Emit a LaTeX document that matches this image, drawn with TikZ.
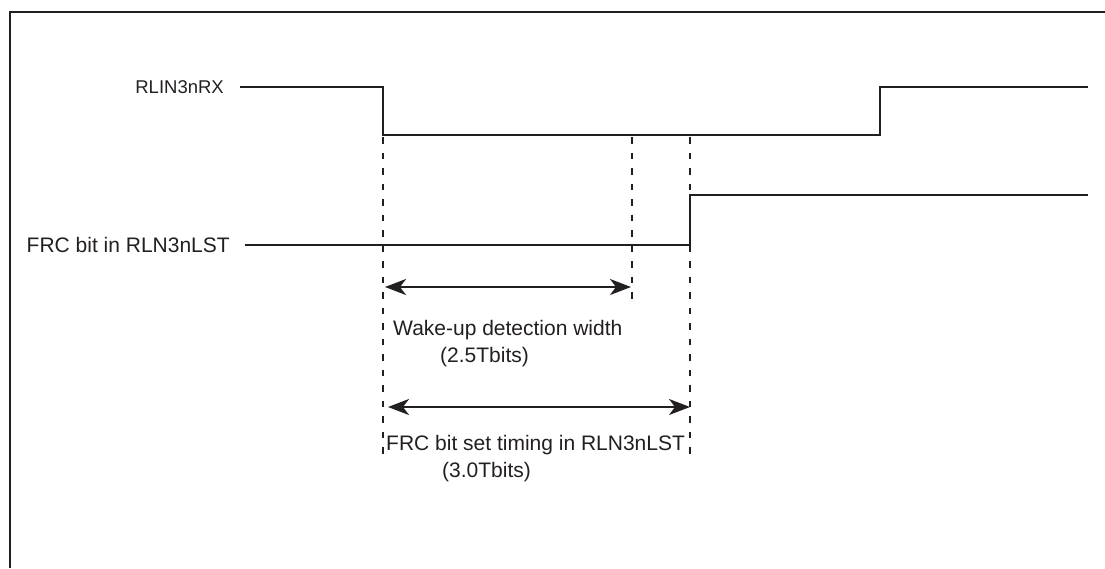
\documentclass[tikz,border=0pt]{standalone}
\usepackage{fontspec}
\setmainfont{Liberation Sans}
\usetikzlibrary{arrows.meta}
\definecolor{ink}{RGB}{35,31,32}
\begin{document}
\begin{tikzpicture}[x=1pt,y=-1pt,
  signal/.style={ink, line width=2.9pt, line join=miter},
  guide/.style={ink, line width=1.1pt, dash pattern=on 6.5pt off 9pt},
  span/.style={ink, line width=2.2pt, {Stealth[length=21pt,width=16pt,inset=6pt]}-{Stealth[length=21pt,width=16pt,inset=6pt]}},
  lab/.style={inner sep=0pt, font=\fontsize{21}{24}\selectfont, text=ink},
  labs/.style={inner sep=0pt, font=\fontsize{18.5}{22}\selectfont, text=ink}]
\useasboundingbox (0,0) rectangle (1105,568);
\draw[ink, line width=2pt] (10,568) -- (10,12) -- (1105,12);

% labels
\node[labs, anchor=east] (rxlab) at (224,87) {RLIN3nRX};
\node[lab, anchor=east] (frclab) at (230,245) {FRC bit in RLN3nLST};

% signal coordinates
\coordinate (rxa) at (240,87);
\coordinate (rxb) at (383,135);
\coordinate (rxc) at (880,135);
\coordinate (rxd) at (1088,87);
\coordinate (fa) at (245,245);
\coordinate (fb) at (690,195);
\coordinate (fc) at (1088,195);

\draw[signal] (rxa) -| (rxb) -- (rxc) |- (rxd);
\draw[signal] (fa) -| (fb) -- (fc);

% guides
\coordinate (g1t) at (383,137);
\coordinate (g1b) at (383,455);
\coordinate (g2t) at (632,137);
\coordinate (g2b) at (632,300);
\coordinate (g3t) at (690,137);
\coordinate (g3b) at (690,460);
\draw[guide] (g1t) -- (g1b);
\draw[guide] (g2t) -- (g2b);
\draw[guide] (g3t) -- (g3b);

% spans
\coordinate (s1a) at (385,287);
\coordinate (s1b) at (631,287);
\coordinate (s2a) at (388,407);
\coordinate (s2b) at (690,407);
\draw[span] (s1a) -- (s1b);
\draw[span] (s2a) -- (s2b);

\node[lab, anchor=base west] (w1) at (393,335) {Wake-up detection width};
\node[lab, anchor=base west] (w2) at (440,362) {(2.5Tbits)};
\node[lab, anchor=base west] (f1) at (386,450) {FRC bit set timing in RLN3nLST};
\node[lab, anchor=base west] (f2) at (442,477) {(3.0Tbits)};
\end{tikzpicture}
\end{document}
